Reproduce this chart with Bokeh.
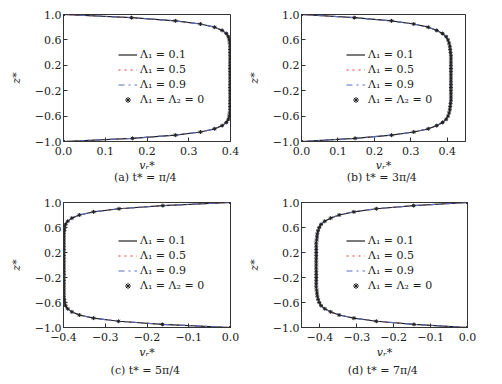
from bokeh.plotting import figure
from bokeh.models import Range1d, FixedTicker, Legend, LegendItem, Title
from bokeh.layouts import column, row
from bokeh.embed import file_html
from bokeh.resources import INLINE

# ---- data ----
z = [1.0, 0.95, 0.9, 0.85, 0.8, 0.75, 0.7, 0.65, 0.6, 0.55, 0.5,
     0.45, 0.4, 0.35, 0.3, 0.25, 0.2, 0.15, 0.1, 0.05, 0.0,
     -0.05, -0.1, -0.15, -0.2, -0.25, -0.3, -0.35, -0.4, -0.45,
     -0.5, -0.55, -0.6, -0.65, -0.7, -0.75, -0.8, -0.85, -0.9, -0.95, -1.0]

v_a = [0.0, 0.163, 0.268, 0.328, 0.362, 0.380, 0.390, 0.395, 0.397, 0.398, 0.399,
       0.399, 0.399, 0.399, 0.399, 0.399, 0.399, 0.399, 0.399, 0.399, 0.399,
       0.399, 0.399, 0.399, 0.399, 0.399, 0.399, 0.399, 0.399, 0.399,
       0.399, 0.398, 0.397, 0.395, 0.390, 0.380, 0.362, 0.328, 0.268, 0.165, 0.0]

v_b = [0.0, 0.145, 0.247, 0.308, 0.348, 0.371, 0.387, 0.397, 0.402, 0.405, 0.407,
       0.408, 0.409, 0.410, 0.410, 0.410, 0.410, 0.410, 0.410, 0.410, 0.410,
       0.410, 0.410, 0.410, 0.410, 0.410, 0.410, 0.410, 0.409, 0.408,
       0.407, 0.405, 0.402, 0.397, 0.387, 0.371, 0.348, 0.308, 0.247, 0.147, 0.0]

v_c = [0.0, -0.162, -0.267, -0.328, -0.362, -0.380, -0.390, -0.395, -0.397, -0.398, -0.399,
       -0.399, -0.399, -0.399, -0.399, -0.399, -0.399, -0.399, -0.399, -0.399, -0.399,
       -0.399, -0.399, -0.399, -0.399, -0.399, -0.399, -0.399, -0.399, -0.399,
       -0.399, -0.398, -0.397, -0.395, -0.390, -0.380, -0.362, -0.328, -0.268, -0.163, 0.0]

v_d = [0.0, -0.146, -0.247, -0.308, -0.348, -0.371, -0.387, -0.397, -0.402, -0.405, -0.407,
       -0.408, -0.409, -0.410, -0.410, -0.410, -0.410, -0.410, -0.410, -0.410, -0.410,
       -0.410, -0.410, -0.410, -0.410, -0.410, -0.410, -0.410, -0.409, -0.408,
       -0.407, -0.405, -0.402, -0.397, -0.387, -0.371, -0.348, -0.308, -0.247, -0.145, 0.0]

y_ticks = [-1.0, -0.6, -0.2, 0.2, 0.6, 1.0]
x_ticks_pos = [0.0, 0.1, 0.2, 0.3, 0.4]
x_ticks_neg = [-0.4, -0.3, -0.2, -0.1, 0.0]
legend_labels = ["Λ\u2081 = 0.1", "Λ\u2081 = 0.5", "Λ\u2081 = 0.9", "Λ\u2081 = Λ\u2082 = 0"]
captions = ["(a)  t* = π/4", "(b)  t* = 3π/4", "(c)  t* = 5π/4", "(d)  t* = 7π/4"]

FONT = "DejaVu Serif"


def fmt(t):
    s = "%.1f" % abs(t)
    return ("\u2212" + s) if t < 0 else s


def panel(v, xr, xticks, cap, width, height, bl, br, bt, bb, legx, legy, xl_standoff, cap_standoff):
    p = figure(width=width, height=height, x_range=Range1d(*xr), y_range=Range1d(-1, 1),
               output_backend="svg", toolbar_location=None,
               min_border_left=bl, min_border_right=br, min_border_top=bt, min_border_bottom=bb)
    p.xgrid.visible = False
    p.ygrid.visible = False
    p.outline_line_color = "#333333"
    p.outline_line_alpha = 1.0
    p.background_fill_color = "white"
    p.border_fill_color = "white"

    for ax in (p.xaxis[0], p.yaxis[0]):
        ax.major_tick_in = 4
        ax.major_tick_out = 0
        ax.minor_tick_line_color = None
        ax.axis_line_color = "#333333"
        ax.major_tick_line_color = "#333333"
        ax.major_label_text_font = FONT
        ax.major_label_text_font_size = "11px"
        ax.major_label_text_color = "#222222"
        ax.axis_label_text_font = FONT
        ax.axis_label_text_font_size = "11px"
        ax.axis_label_text_font_style = "italic"
        ax.axis_label_text_color = "#222222"

    p.xaxis.ticker = FixedTicker(ticks=xticks)
    p.yaxis.ticker = FixedTicker(ticks=y_ticks)
    p.xaxis.major_label_overrides = {t: fmt(t) for t in xticks}
    p.yaxis.major_label_overrides = {t: fmt(t) for t in y_ticks}
    p.xaxis.major_label_standoff = 5
    p.yaxis.major_label_standoff = 2
    p.xaxis.axis_label = "v\u1d63*"
    p.yaxis.axis_label = "z*"
    p.xaxis.axis_label_standoff = xl_standoff
    p.yaxis.axis_label_standoff = 9

    r2 = p.line(v, z, line_color="#ee3333", line_width=1.0, line_dash="dotted")
    r1 = p.line(v, z, line_color="#222222", line_width=1.2)
    r3 = p.line(v, z, line_color="#5a70c0", line_width=1.1, line_dash="dashdot")
    r4 = p.scatter(v, z, marker="asterisk", size=4, line_color="#222222", line_width=1.0)

    leg = Legend(items=[LegendItem(label=legend_labels[0], renderers=[r1]),
                        LegendItem(label=legend_labels[1], renderers=[r2]),
                        LegendItem(label=legend_labels[2], renderers=[r3]),
                        LegendItem(label=legend_labels[3], renderers=[r4])],
                 location=(legx, legy), padding=0, margin=0, spacing=0,
                 glyph_width=19, glyph_height=15, label_height=15, label_standoff=3,
                 label_text_font=FONT, label_text_font_size="11px", label_text_color="#222222",
                 border_line_color=None, background_fill_alpha=0.0)
    p.add_layout(leg, "center")

    t = Title(text=cap, align="center", vertical_align="top", text_font=FONT,
              text_font_size="11px", text_font_style="normal", text_color="#222222",
              standoff=cap_standoff, offset=0)
    p.add_layout(t, "below")
    return p


pa = panel(v_a, (0.0, 0.4), x_ticks_pos, captions[0], 244, 183, 63, 14, 14, 42, 55, 34, 1, -7)
pb = panel(v_b, (0.0, 0.45), x_ticks_pos, captions[1], 250, 183, 55, 29, 14, 42, 45, 34, 1, -7)
pc = panel(v_c, (-0.4, 0.0), x_ticks_neg, captions[2], 244, 197, 63, 14, 19, 53, 55, 34, 2, 4)
pd = panel(v_d, (-0.45, 0.0), x_ticks_neg, captions[3], 250, 197, 55, 27, 19, 53, 45, 34, 2, 4)

layout = column(row(pa, pb), row(pc, pd))

open("out.html", "w").write(file_html(layout, INLINE))
